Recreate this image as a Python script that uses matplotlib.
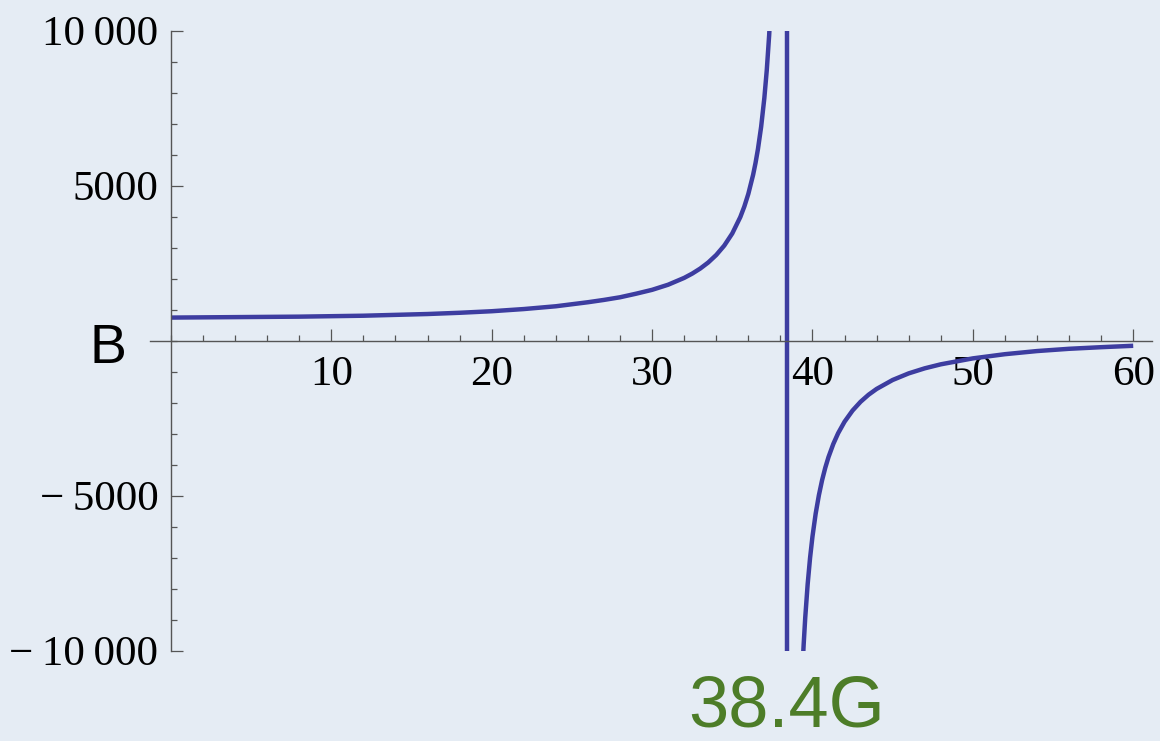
import matplotlib

matplotlib.use("Agg")
import matplotlib.pyplot as plt
from matplotlib.ticker import FixedLocator, MultipleLocator, NullFormatter

# magnetic field (G) and scattering length
resonance_field = 38.4

left_field = [0, 4, 8, 12, 16, 18, 20, 22, 24, 26, 27, 28, 29, 30, 31, 32, 32.5, 33,
              33.5, 34, 34.5, 35, 35.5, 35.75, 36, 36.3, 36.45, 36.6, 36.8, 37.0,
              37.15, 37.3, 37.45]
left_length = [745, 760, 775, 805, 860, 900, 950, 1020, 1110, 1240, 1315, 1400, 1515,
               1640, 1805, 2025, 2163, 2326, 2522, 2764, 3067, 3459, 3986, 4325,
               4733, 5352, 5733, 6178, 6900, 7829, 8720, 9855, 11347]

right_field = [39.40, 39.45, 39.55, 39.7, 39.85, 40.0, 40.2, 40.4, 40.6, 40.8, 41.0,
               41.3, 41.6, 42.0, 42.5, 43.0, 43.5, 44.0, 45.0, 46.0, 47.0, 48.0,
               50.0, 52.0, 54.0, 56.0, 58.0, 60.0]
right_length = [-10322, -9814, -8930, -7859, -7010, -6320, -5579, -4987, -4501,
                -4097, -3755, -3331, -2986, -2615, -2254, -1971, -1743, -1557,
                -1268, -1055, -892, -763, -571, -436, -335, -262, -210, -165]

x_ticks = [10, 20, 30, 40, 50, 60]
x_labels = ["10", "20", "30", "40", "50", "60"]
y_ticks = [-10000, -5000, 5000, 10000]
y_labels = ["\u2212\u200910\u2009000", "\u2212\u20095000", "5000", "10\u2009000"]

bg = "#e5ecf4"
curve_color = "#3d3da0"
axis_color = "#555555"
serif = ["Liberation Serif", "DejaVu Serif"]
sans = ["Liberation Sans", "DejaVu Sans"]

fig = plt.figure(figsize=(11.6, 7.41), dpi=100)
fig.patch.set_facecolor(bg)
ax = fig.add_axes([0.1294, 0.1219, 0.8641, 0.8367])
ax.set_facecolor(bg)

ax.plot(left_field, left_length, color=curve_color, lw=3.2, solid_capstyle="butt",
        solid_joinstyle="round")
ax.plot(right_field, right_length, color=curve_color, lw=3.2, solid_capstyle="butt",
        solid_joinstyle="round")
ax.axvline(resonance_field, color=curve_color, lw=3.2)

ax.set_xlim(-1.3, 61.2)
ax.set_ylim(-10000, 10000)

for side in ("top", "right"):
    ax.spines[side].set_visible(False)
ax.spines["left"].set_position(("data", 0))
ax.spines["bottom"].set_position(("data", 0))
for side in ("left", "bottom"):
    ax.spines[side].set_color(axis_color)
    ax.spines[side].set_linewidth(1.0)

ax.xaxis.set_major_locator(FixedLocator(x_ticks))
ax.xaxis.set_minor_locator(MultipleLocator(2))
ax.set_xticklabels(x_labels, fontfamily=serif, fontsize=31)
ax.yaxis.set_major_locator(FixedLocator(y_ticks))
ax.yaxis.set_minor_locator(MultipleLocator(1000))
ax.set_yticklabels(y_labels, fontfamily=serif, fontsize=31)
ax.xaxis.set_minor_formatter(NullFormatter())
ax.yaxis.set_minor_formatter(NullFormatter())

ax.tick_params(which="both", direction="in", color=axis_color, width=0.9)
ax.tick_params(which="major", length=8.5)
ax.tick_params(which="minor", length=4.5)
ax.tick_params(axis="x", which="major", pad=11)
ax.tick_params(axis="y", which="major", pad=9)

ax.text(-3.9, -710, "B", fontfamily=sans, fontsize=40, color="black",
        ha="center", va="baseline", clip_on=False)
ax.text(resonance_field, -12450, "38.4G", fontfamily=sans, fontsize=52,
        color="#4d7d28", ha="center", va="baseline", clip_on=False)

fig.savefig("out.png", dpi=100, facecolor=bg)
